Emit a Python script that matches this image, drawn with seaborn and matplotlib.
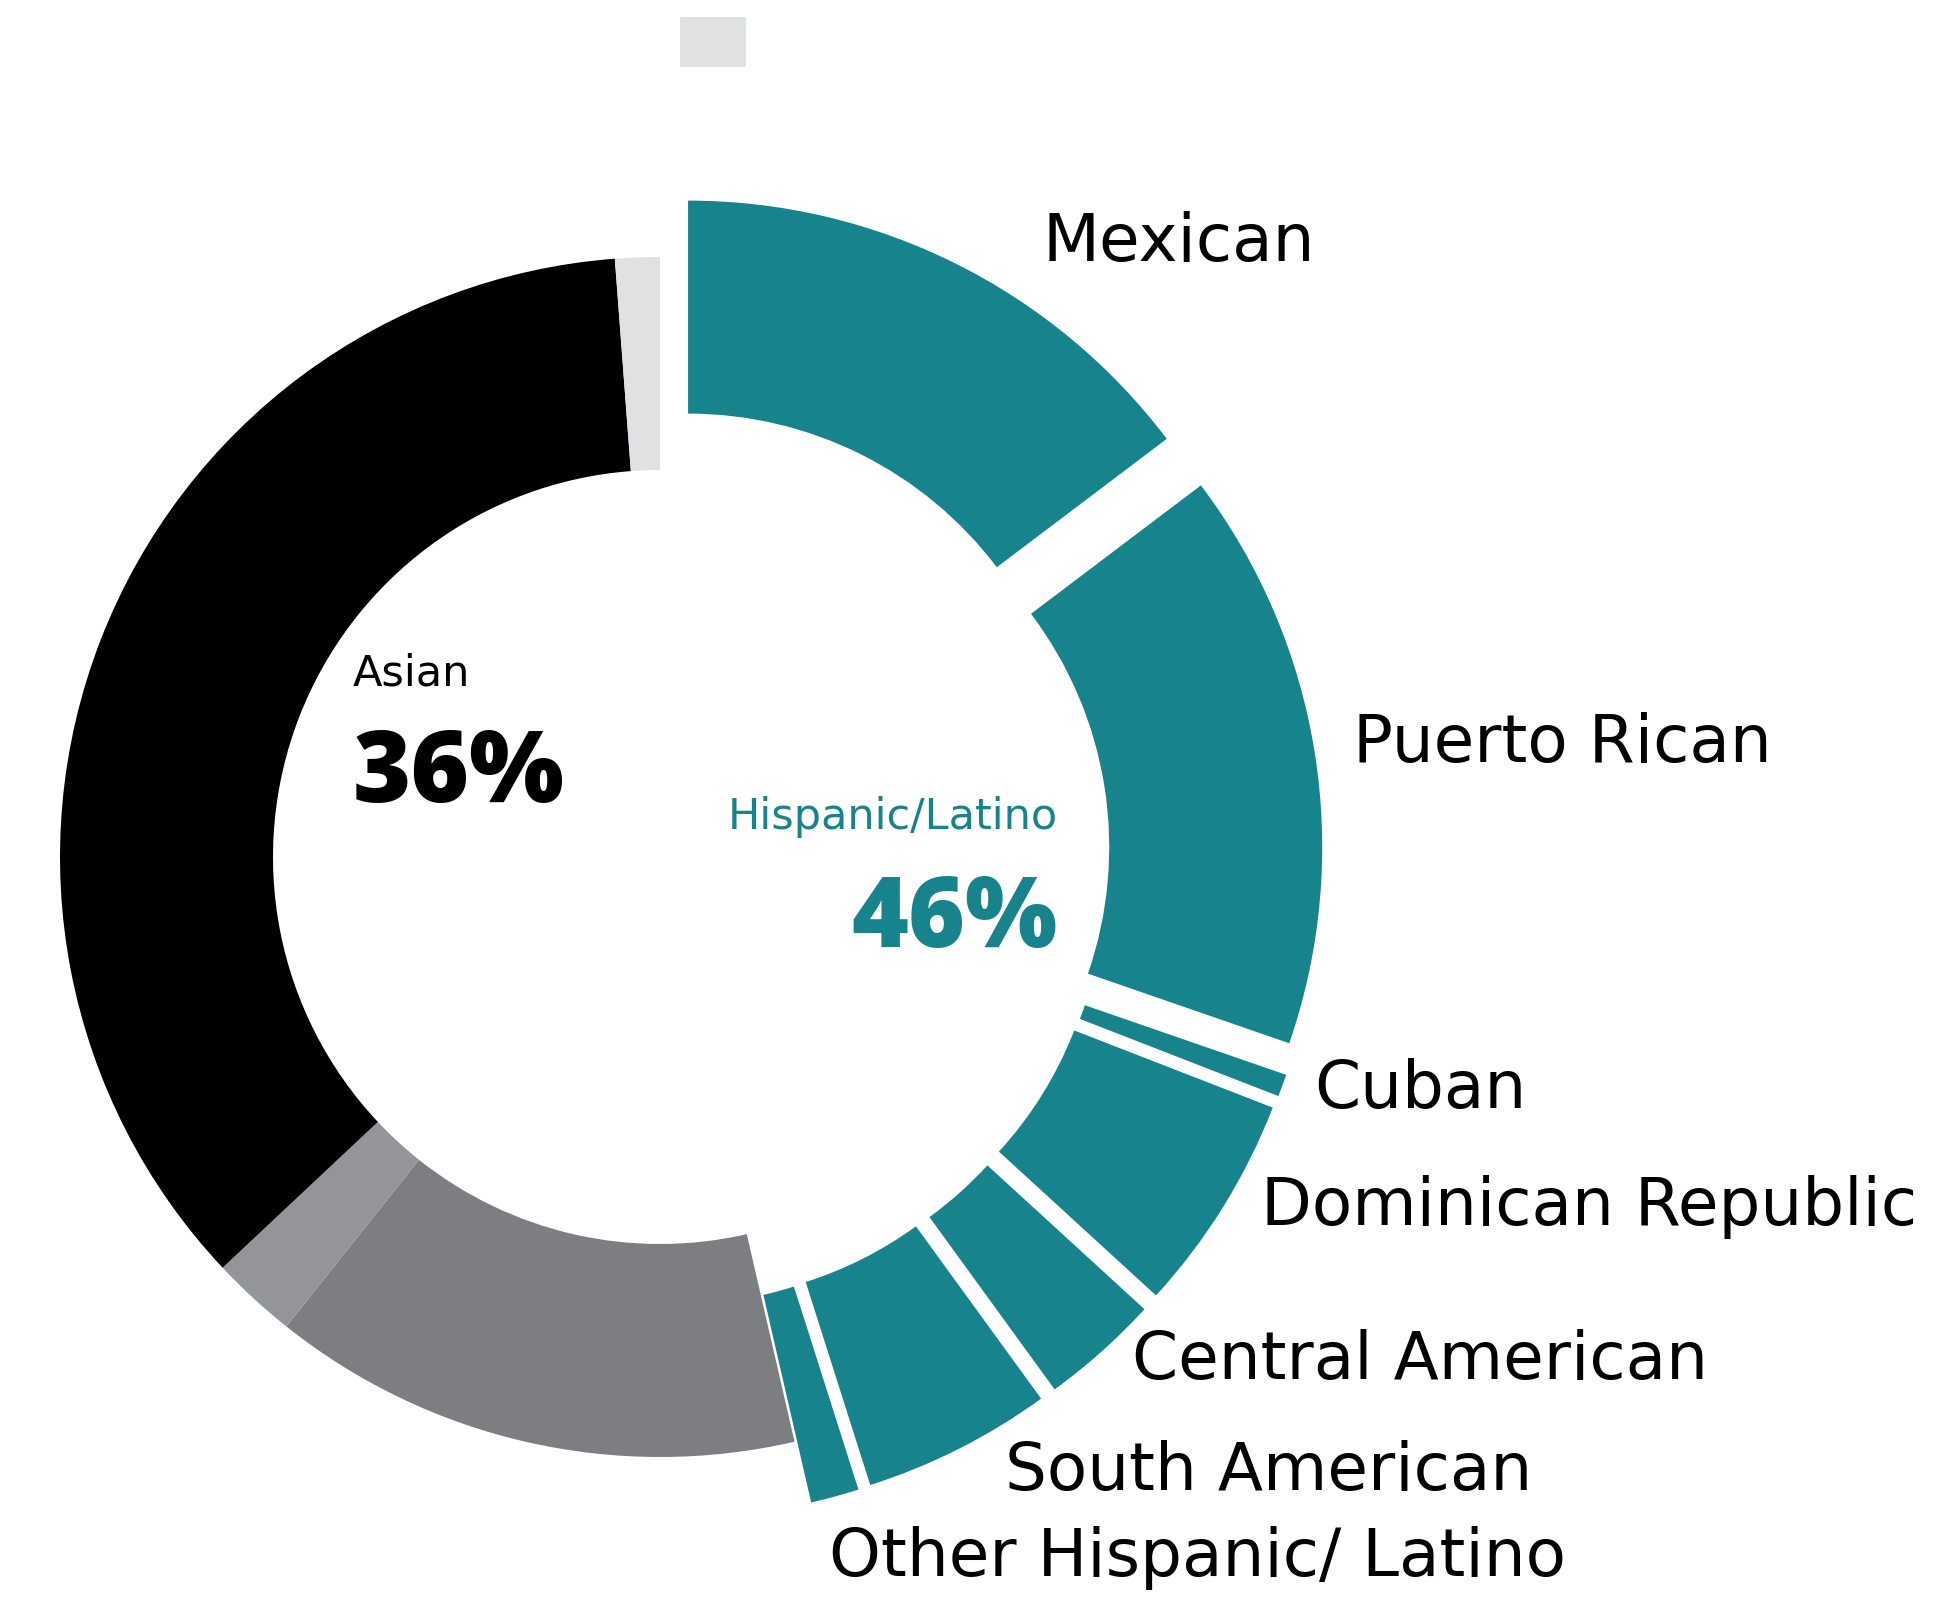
import matplotlib
matplotlib.use("Agg")
import matplotlib.pyplot as plt
import seaborn as sns

# Hispanic/Latino sub-groups (percent of total)
hispanic_groups = ["Mexican", "Puerto Rican", "Cuban", "Dominican Republic",
                   "Central American", "South American", "Other Hispanic/ Latino"]
hispanic_values = [14.7, 15.6, 0.6, 5.9, 3.2, 5.1, 1.3]

# Remaining groups, in clockwise order after the Hispanic/Latino block
other_groups = ["Other group 1", "Other group 2", "Asian", "Other group 3"]
other_values = [14.3, 2.3, 35.8, 1.2]

teal = "#17838c"
other_colors = ["#7d7e82", "#939598", "#000000", "#e0e1e3"]

sns.set_theme(style="white")
plt.rcParams["font.family"] = ["DejaVu Sans"]

W, H = 1934, 1603
fig = plt.figure(figsize=(W / 100, H / 100), dpi=100)
ax = fig.add_axes([0, 0, 1, 1])

values = hispanic_values + other_values
colors = sns.color_palette([teal] * len(hispanic_values) + other_colors)
explode = [0.105] * len(hispanic_values) + [0.0] * len(other_values)

wedges, _ = ax.pie(values, colors=colors, explode=explode, startangle=90,
                   counterclock=False, radius=1.0,
                   wedgeprops=dict(width=0.355, linewidth=0))

# Data units: 600 px per radius, ring centred at (660, 857) px
ax.set_xlim(-660 / 600, (W - 660) / 600)
ax.set_ylim(-(H - 857) / 600, 857 / 600)
ax.set_aspect("equal")
ax.axis("off")

# Sub-group labels
label_pos = [(0.637, 0.993), (1.155, 0.158), (1.090, -0.418), (1.002, -0.613),
             (0.787, -0.870), (0.575, -1.055), (0.282, -1.198)]
for name, (x, y) in zip(hispanic_groups, label_pos):
    ax.text(x, y, name, fontsize=47.5, color="black", ha="left", va="baseline")

# Group totals
asian_share = other_values[other_groups.index("Asian")]
hispanic_share = sum(hispanic_values)
ax.text(-0.513, 0.285, "Asian", fontsize=31, color="black", ha="left", va="baseline")
ax.text(-0.513, 0.092, f"{asian_share:.0f}%", fontsize=72, fontweight="heavy",
        family="Open Sans", color="black", ha="left", va="baseline")
ax.text(0.663, 0.047, "Hispanic/Latino", fontsize=31, color=teal,
        ha="right", va="baseline")
ax.text(0.663, -0.150, f"{hispanic_share:.0f}%", fontsize=70, fontweight="heavy",
        family="Open Sans", color=teal, ha="right", va="baseline")

# Single legend swatch at the top
fig.legend(handles=[wedges[-1]], labels=[""], loc="upper left",
           bbox_to_anchor=(680 / W, 1 - 17 / H), frameon=False, borderpad=0,
           borderaxespad=0, handletextpad=0, fontsize=20,
           handlelength=2.37, handleheight=2.39)

fig.savefig("out.png", dpi=100, facecolor="white")
